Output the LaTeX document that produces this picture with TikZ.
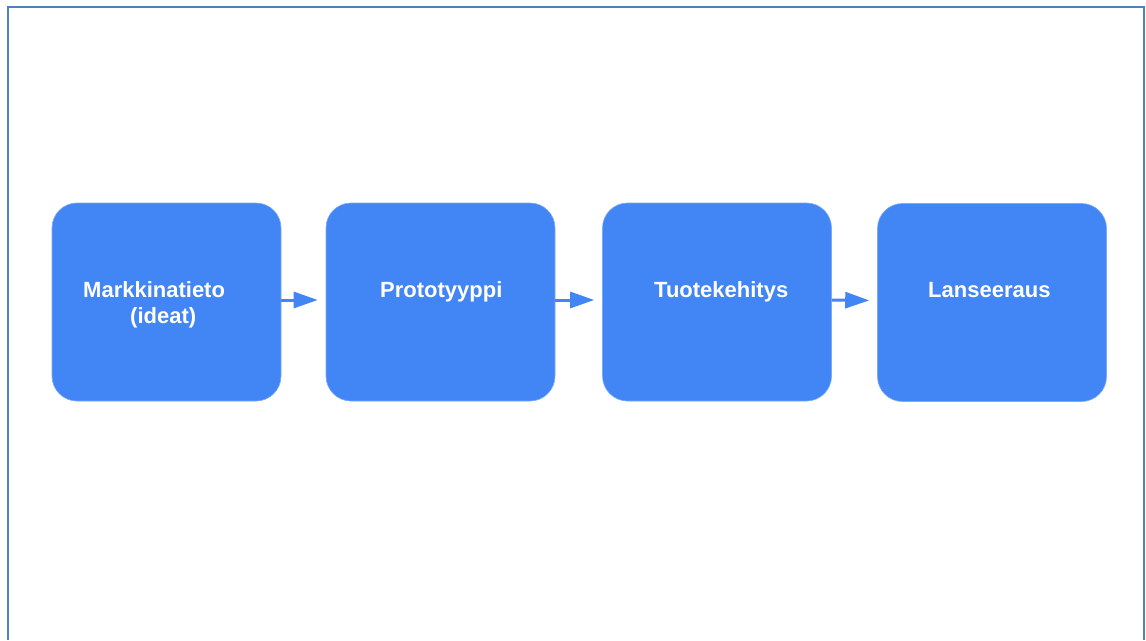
\documentclass[tikz,border=0pt]{standalone}
\usepackage{fontspec}
\setmainfont{Liberation Sans}
\usetikzlibrary{arrows.meta}
\definecolor{boxblue}{HTML}{4285F4}
\definecolor{framecol}{HTML}{4F81BD}
\begin{document}
\begin{tikzpicture}[x=1pt,y=-1pt,
  stage/.style={draw=boxblue!70!white, line width=0.6pt, fill=boxblue, rounded corners=25pt,
    minimum width=229pt, minimum height=198pt, inner sep=0pt},
  lbl/.style={text=white, font=\bfseries\fontsize{22}{26}\selectfont, inner sep=0pt,
    anchor=base west, align=left},
  flow/.style={draw=boxblue, line width=3pt, -{Triangle[length=24pt,width=16pt]}, shorten >=8pt}]
\useasboundingbox (0,0) rectangle (1146,640);
\fill[white] (0,0) rectangle (1146,640);
\draw[framecol, line width=2.2pt] (8,640) -- (8,7) -- (1144,7) -- (1144,640);

\node[stage] (b1) at (166.5,302) {};
\node[stage] (b2) at (440.5,302) {};
\node[stage] (b3) at (717,302) {};
\node[stage] (b4) at (992,302.5) {};

\node[lbl] (t1) at (83,323.5) {Markkinatieto\\\hspace*{47pt}(ideat)};
\node[lbl] (t2) at (380,297.5) {Prototyyppi};
\node[lbl] (t3) at (654,297.5) {Tuotekehitys};
\node[lbl] (t4) at (928,297.5) {Lanseeraus};

\draw[flow] ([yshift=2pt]b1.east) -- ([yshift=2pt]b2.west);
\draw[flow] ([yshift=2pt]b2.east) -- ([yshift=2pt]b3.west);
\draw[flow] ([yshift=2pt]b3.east) -- ([yshift=2pt]b4.west);
\end{tikzpicture}
\end{document}
